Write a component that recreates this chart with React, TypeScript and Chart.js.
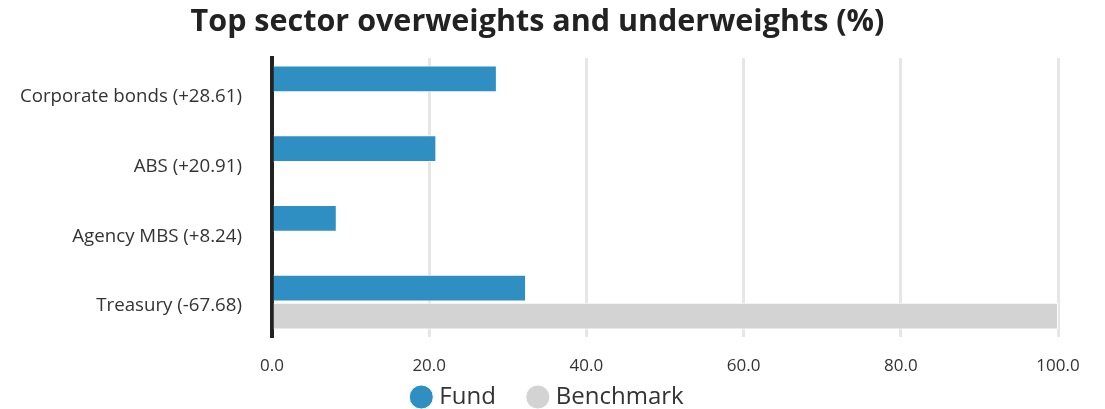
import React, { useEffect, useRef } from "react";
import { Chart, registerables } from "chart.js";

Chart.register(...registerables);

const categories = [
  "Corporate bonds (+28.61)",
  "ABS (+20.91)",
  "Agency MBS (+8.24)",
  "Treasury (-67.68)",
];
const fundValues = [28.61, 20.91, 8.24, 32.32];
const benchmarkValues = [0, 0, 0, 100];
const xTicks = [0, 20, 40, 60, 80, 100];

const LIFT = 26.4;
const SHIFT_X = 12;
const legendLift = {
  id: "legendLift",
  beforeDraw(chart: any) {
    const lg = chart.legend;
    if (lg) {
      lg.top -= LIFT;
      lg.left += SHIFT_X;
      lg.right += SHIFT_X;
    }
  },
  afterDraw(chart: any) {
    const lg = chart.legend;
    if (lg) {
      lg.top += LIFT;
      lg.left -= SHIFT_X;
      lg.right -= SHIFT_X;
    }
  },
};

export default function App() {
  const ref = useRef<HTMLCanvasElement>(null);
  useEffect(() => {
    document.body.style.margin = "0";
    const chart = new Chart(ref.current!, {
      type: "bar",
      data: {
        labels: categories,
        datasets: [
          {
            label: "Fund",
            data: fundValues,
            backgroundColor: "#2f8fc2",
            borderColor: "#ffffff",
            borderWidth: 1,
            categoryPercentage: 0.8,
            barPercentage: 0.96,
          },
          {
            label: "Benchmark",
            data: benchmarkValues,
            backgroundColor: "#d3d3d3",
            borderColor: "#ffffff",
            borderWidth: 1,
            categoryPercentage: 0.8,
            barPercentage: 0.96,
          },
        ],
      },
      plugins: [legendLift],
      options: {
        indexAxis: "y",
        animation: false,
        responsive: true,
        maintainAspectRatio: false,
        layout: { padding: { left: 17, right: 47, top: 3.7, bottom: 0 } },
        plugins: {
          title: {
            display: true,
            text: "Top sector overweights and underweights (%)",
            color: "#222222",
            font: { family: "'Open Sans'", size: 30.5, weight: "bold" },
            padding: { top: 0, bottom: 17.7 },
          },
          legend: {
            position: "bottom",
            maxHeight: 33.6,
            labels: {
              usePointStyle: true,
              pointStyle: "circle",
              boxWidth: 12,
              boxHeight: 17,
              color: "#333333",
              font: { family: "'Open Sans'", size: 24 },
              padding: 36,
            },
          },
          tooltip: { enabled: false },
        },
        scales: {
          x: {
            min: 0,
            max: 100,
            afterBuildTicks: (scale: any) => {
              scale.ticks = xTicks.map((v) => ({ value: v }));
            },
            afterFit: (scale: any) => {
              scale.height = 38.4;
            },
            ticks: {
              callback: (v: any) => Number(v).toFixed(1),
              color: "#333333",
              font: { family: "'Open Sans'", size: 17 },
              padding: 19,
            },
            grid: {
              color: "#e6e6e6",
              lineWidth: 3,
              drawTicks: false,
            },
            border: { display: false },
          },
          y: {
            afterFit: (scale: any) => {
              scale.width = 255;
            },
            ticks: {
              color: "#333333",
              font: { family: "'Open Sans'", size: 18.7 },
              padding: 30,
              labelOffset: 4,
            },
            grid: { display: false, drawTicks: false },
            border: { display: true, color: "#222222", width: 4 },
          },
        },
      },
    });
    return () => chart.destroy();
  }, []);
  return (
    <div style={{ position: "relative", width: "1105px", height: "409px" }}>
      <canvas ref={ref} />
    </div>
  );
}
